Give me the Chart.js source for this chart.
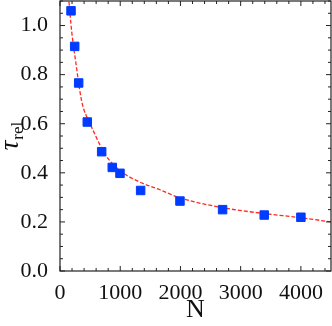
<!DOCTYPE html>
<html><head><meta charset="utf-8">
<script src="https://cdn.jsdelivr.net/npm/chart.js@4/dist/chart.umd.min.js"></script>
<style>html,body{margin:0;padding:0;background:#fff}#wrap{width:332px;height:326px}</style>
</head><body><div id="wrap"><canvas id="c" width="332" height="326"></canvas></div>
<script>
const sampleN = [183,244,310,453,692,868,996,1339,1992,2700,3391,4000];
const tauRel  = [1.06,0.915,0.766,0.607,0.486,0.422,0.398,0.328,0.285,0.250,0.228,0.219];
const fitN   = [149,194,260,360,498,553,747,996,1328,1660,1992,2700,3391,4000,4500];
const fitTau = [1.097,0.976,0.854,0.692,0.600,0.571,0.476,0.409,0.362,0.331,0.298,0.258,0.234,0.217,0.200];
const xTickLabels = [0,1000,2000,3000,4000];
const yTickLabels = [0.0,0.2,0.4,0.6,0.8,1.0];
const xMinor = 200, yMinor = 0.05;

const FONT = '"Liberation Serif","Times New Roman",serif';

const framePlugin = {
  id:'frame',
  afterDatasetsDraw(chart){
    const {ctx, chartArea:a, scales:{x,y}} = chart;
    ctx.save();
    ctx.strokeStyle='#222'; ctx.lineWidth=1.2;
    ctx.strokeRect(a.left, a.top, a.right-a.left, a.bottom-a.top);
    ctx.lineWidth=1;
    const maj=5, mn=3;
    for(let v=0; v<=x.max+1e-6; v+=xMinor){
      const px=x.getPixelForValue(v);
      const L = (Math.abs(v%1000)<1e-6)?maj:mn;
      ctx.beginPath(); ctx.moveTo(px,a.bottom); ctx.lineTo(px,a.bottom-L);
      ctx.moveTo(px,a.top); ctx.lineTo(px,a.top+L); ctx.stroke();
    }
    for(let i=0; i*yMinor<=y.max+1e-6; i++){
      const v=i*yMinor;
      const py=y.getPixelForValue(v);
      const L = (i%4===0)?maj:mn;
      ctx.beginPath(); ctx.moveTo(a.left,py); ctx.lineTo(a.left+L,py);
      ctx.moveTo(a.right,py); ctx.lineTo(a.right-L,py); ctx.stroke();
    }
    ctx.restore();
  },
  afterDraw(chart){
    const {ctx, chartArea:a} = chart;
    ctx.save();
    ctx.fillStyle='#111';
    ctx.translate(18,(a.top+a.bottom)/2);
    ctx.rotate(-Math.PI/2);
    ctx.textBaseline='alphabetic';
    ctx.font='italic 27px '+FONT;
    const w1=ctx.measureText('τ').width;
    ctx.font='17px '+FONT;
    const w2=ctx.measureText('rel').width;
    const start=-(w1+w2+1)/2;
    ctx.font='italic 27px '+FONT;
    ctx.fillText('τ',start,0);
    ctx.font='17px '+FONT;
    ctx.fillText('rel',start+w1+1,5);
    ctx.restore();
  }
};

function zeroPad(s){
  s.paddingTop=0;s.paddingBottom=0;s.paddingLeft=0;s.paddingRight=0;
}

new Chart(document.getElementById('c'),{
  type:'scatter',
  data:{datasets:[
    {data:sampleN.map((n,i)=>({x:n,y:tauRel[i]})), pointStyle:'rect', pointRadius:6, pointHoverRadius:6,
     backgroundColor:'rgb(0,60,255)', borderColor:'rgb(0,60,255)', borderWidth:1, order:0, clip:false},
    {data:fitN.map((n,i)=>({x:n,y:fitTau[i]})), showLine:true, pointRadius:0, borderColor:'rgb(255,40,30)',
     borderWidth:1.3, borderDash:[4,2], cubicInterpolationMode:'monotone', order:1}
  ]},
  options:{
    responsive:false, animation:false, devicePixelRatio:1,
    layout:{autoPadding:false, padding:{top:1,right:1,left:0,bottom:0}},
    plugins:{legend:{display:false},tooltip:{enabled:false}},
    scales:{
      x:{min:0,max:4500,
        afterBuildTicks(s){s.ticks=xTickLabels.map(v=>({value:v}));},
        afterFit(s){s.height=55;zeroPad(s);},
        grid:{display:false}, border:{display:false},
        ticks:{color:'#111',font:{family:FONT,size:22},padding:1,maxRotation:0,autoSkip:false,callback:v=>String(v)},
        title:{display:true,text:'N',color:'#111',font:{family:FONT,size:26},padding:{top:0,bottom:0}}
      },
      y:{min:0,max:1.1,
        afterBuildTicks(s){s.ticks=yTickLabels.map(v=>({value:v}));},
        afterFit(s){s.width=60;zeroPad(s);},
        grid:{display:false}, border:{display:false},
        ticks:{color:'#111',font:{family:FONT,size:22},padding:4,autoSkip:false,callback:v=>Number(v).toFixed(1)}
      }
    }
  },
  plugins:[framePlugin]
});
</script></body></html>
